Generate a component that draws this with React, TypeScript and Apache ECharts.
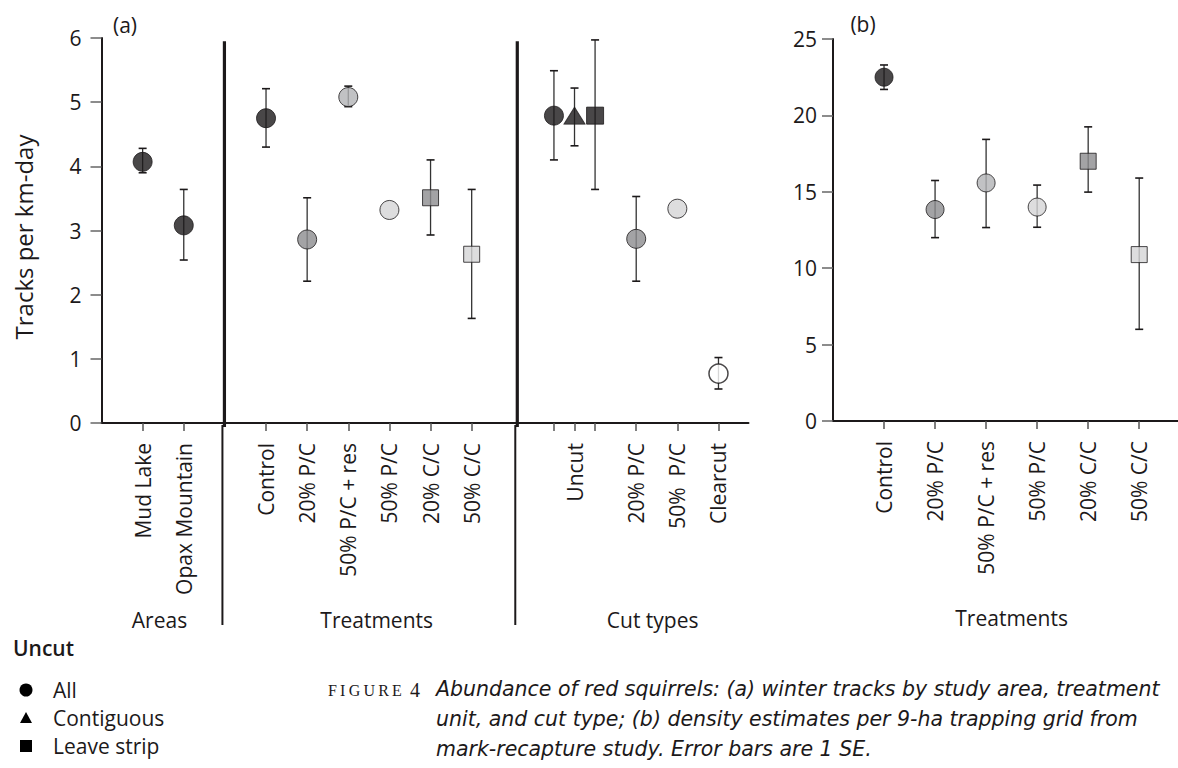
import React, { useEffect, useRef } from 'react';
import * as echarts from 'echarts';

const FONT = "'Open Sans', 'Noto Sans', sans-serif";
const CAPTION_FONT = "'DejaVu Sans', 'Open Sans', sans-serif";
const INK = '#1c191a';
const BAR = '#333333';

// ---------- Panel (a): tracks per km-day ----------
const aCategories = ['Mud Lake', 'Opax Mountain', 'Control', '20% P/C', '50% P/C + res', '50% P/C', '20% C/C', '50% C/C', 'Uncut', '20% P/C', '50%  P/C', 'Clearcut'];
const aCategoryPos = [1, 2, 4, 5, 6, 7, 8, 9, 11.5, 13, 14, 15];
const aTickPos = [1, 2, 4, 5, 6, 7, 8, 9, 11, 11.5, 12, 13, 14, 15];
const aPointPos = [1, 2, 4, 5, 6, 7, 8, 9, 11, 11.5, 12, 13, 14, 15];
const aMeans = [4.07, 3.08, 4.75, 2.86, 5.08, 3.32, 3.51, 2.63, 4.79, 4.79, 4.79, 2.87, 3.34, 0.77];
const aLow = [3.9, 2.54, 4.3, 2.21, 4.93, null, 2.93, 1.63, 4.1, 4.32, 3.64, 2.21, null, 0.53];
const aHigh = [4.28, 3.64, 5.21, 3.51, 5.25, null, 4.1, 3.64, 5.49, 5.22, 5.97, 3.53, null, 1.02];
const aShapes = ['circle', 'circle', 'circle', 'circle', 'circle', 'circle', 'rect', 'rect', 'circle', 'triangle', 'rect', 'circle', 'circle', 'circle'];
const aShades = ['black', 'black', 'black', 'dark', 'medium', 'light', 'dark', 'light', 'black', 'black', 'black', 'dark', 'light', 'white'];
const aGroupNames = ['Areas', 'Treatments', 'Cut types'];
const aGroupPos = [1.41, 6.69, 13.4];
const aDividers = [2.94, 10.06];
const aDividerTop = 5.95;
const aYMax = 6;

// ---------- Panel (b): density per 9-ha grid ----------
const bCategories = ['Control', '20% P/C', '50% P/C + res', '50% P/C', '20% C/C', '50% C/C'];
const bPos = [1, 2, 3, 4, 5, 6];
const bMeans = [22.5, 13.84, 15.58, 14.0, 17.0, 10.89];
const bLow = [21.7, 12.0, 12.66, 12.68, 14.98, 6.0];
const bHigh = [23.3, 15.74, 18.43, 15.44, 19.25, 15.9];
const bShapes = ['circle', 'circle', 'circle', 'circle', 'rect', 'rect'];
const bShades = ['black', 'dark', 'medium', 'light', 'dark', 'light'];
const bGroupNames = ['Treatments'];
const bGroupPos = [3.5];
const bYMax = 25;

// ---------- Legend & caption text ----------
const legendTitle = 'Uncut';
const legendLabels = ['All', 'Contiguous', 'Leave strip'];
const captionLines = [
  'Abundance of red squirrels: (a) winter tracks by study area, treatment',
  'unit, and cut type; (b) density estimates per 9-ha trapping grid from',
  'mark-recapture study. Error bars are 1 SE.',
];

const SHADE: Record<string, string> = {
  black: INK,
  dark: '#8c8c8e',
  medium: '#b2b3b5',
  light: '#d4d5d6',
  white: '#ffffff',
};

function symbolSize(shape: string, idx: number, panel: 'a' | 'b') {
  if (shape === 'triangle') return [21, 17];
  if (shape === 'rect') return panel === 'a' && idx === 10 ? 17 : 16;
  return panel === 'a' ? 19 : 18;
}

function pointData(pos: number[], means: number[], shapes: string[], shades: string[], panel: 'a' | 'b') {
  return pos.map((x, i) => ({
    value: [x, means[i]],
    symbol: shapes[i],
    symbolSize: symbolSize(shapes[i], i, panel),
    itemStyle: {
      color: SHADE[shades[i]],
      borderColor: INK,
      borderWidth: shades[i] === 'white' ? 1.5 : 1,
    },
  }));
}

function errData(pos: number[], low: (number | null)[], high: (number | null)[]) {
  const out: number[][] = [];
  pos.forEach((x, i) => {
    const lo = low[i];
    const hi = high[i];
    if (lo != null && hi != null) out.push([x, lo, hi]);
  });
  return out;
}

const errRender = (params: any, api: any) => {
  const x = api.value(0);
  const top = api.coord([x, api.value(2)]);
  const bot = api.coord([x, api.value(1)]);
  const c = 4;
  const st = { stroke: BAR, lineWidth: 1.3 };
  return {
    type: 'group',
    children: [
      { type: 'line', shape: { x1: top[0], y1: top[1], x2: bot[0], y2: bot[1] }, style: st },
      { type: 'line', shape: { x1: top[0] - c, y1: top[1], x2: top[0] + c, y2: top[1] }, style: { stroke: INK, lineWidth: 1.6 } },
      { type: 'line', shape: { x1: bot[0] - c, y1: bot[1], x2: bot[0] + c, y2: bot[1] }, style: { stroke: INK, lineWidth: 1.6 } },
    ],
  };
};

const groupLabelRender = (names: string[]) => (params: any, api: any) => {
  const p = api.coord([api.value(0), 0]);
  return {
    type: 'text',
    x: p[0],
    y: p[1] + 197,
    style: {
      text: names[params.dataIndex],
      fontSize: 21,
      fontFamily: FONT,
      fill: INK,
      align: 'center',
      verticalAlign: 'middle',
    },
  };
};

const dividerRender = (params: any, api: any) => {
  const x = api.value(0);
  const top = api.coord([x, aDividerTop]);
  const base = api.coord([x, 0]);
  return {
    type: 'group',
    children: [
      { type: 'line', shape: { x1: top[0] + 2, y1: top[1], x2: base[0] + 2, y2: base[1] + 4 }, style: { stroke: INK, lineWidth: 3.2 } },
      { type: 'line', shape: { x1: base[0], y1: base[1] + 2, x2: base[0], y2: base[1] + 202 }, style: { stroke: INK, lineWidth: 2 } },
    ],
  };
};

function labelFor(cats: string[], pos: number[]) {
  return (v: number) => {
    const i = pos.findIndex((p) => Math.abs(p - v) < 1e-6);
    return i >= 0 ? cats[i] : '';
  };
}

const axisText = { fontSize: 21, fontFamily: FONT, color: INK };

export default function App() {
  const ref = useRef<HTMLDivElement>(null);

  useEffect(() => {
    if (!ref.current) return;
    const chart = echarts.init(ref.current, undefined, { renderer: 'svg' });

    const legendY = [690, 718, 746];

    const graphics: any[] = [
      { type: 'text', x: 23, y: 237, rotation: Math.PI / 2, style: { text: 'Tracks per km-day', fontSize: 24, fontFamily: FONT, fill: INK, align: 'center', verticalAlign: 'middle' } },
      { type: 'text', x: 125, y: 25, style: { text: '(a)', fontSize: 21, fontFamily: FONT, fill: INK, align: 'center', verticalAlign: 'middle' } },
      { type: 'text', x: 863, y: 24, style: { text: '(b)', fontSize: 21, fontFamily: FONT, fill: INK, align: 'center', verticalAlign: 'middle' } },
      { type: 'text', x: 13, y: 648, style: { text: legendTitle, fontSize: 21, fontWeight: 600, fontFamily: FONT, fill: INK, align: 'left', verticalAlign: 'middle' } },
      { type: 'circle', shape: { cx: 26, cy: legendY[0], r: 6.5 }, style: { fill: '#000' } },
      { type: 'polygon', shape: { points: [[26, legendY[1] - 6], [32, legendY[1] + 5], [20, legendY[1] + 5]] }, style: { fill: '#000' } },
      { type: 'rect', shape: { x: 20, y: legendY[2] - 6, width: 12, height: 12 }, style: { fill: '#000' } },
      {
        type: 'text', x: 328, y: 690,
        style: {
          text: '{s|F\u2009I\u2009G\u2009U\u2009R\u2009E\u2009}{n| 4}',
          fontFamily: "'Liberation Serif', 'DejaVu Serif', serif",
          fill: INK, align: 'left', verticalAlign: 'middle',
          rich: {
            s: { fontSize: 16, fontFamily: "'Liberation Serif', 'DejaVu Serif', serif", fill: INK },
            n: { fontSize: 20, fontFamily: "'Liberation Serif', 'DejaVu Serif', serif", fill: INK },
          },
        },
      },
    ];
    captionLines.forEach((line, i) => {
      graphics.push({ type: 'text', x: 436, y: 689 + i * 30, style: { text: line, fontSize: 20.5, fontStyle: 'italic', fontFamily: CAPTION_FONT, fill: INK, align: 'left', verticalAlign: 'middle' } });
    });
    legendLabels.forEach((t, i) => {
      graphics.push({ type: 'text', x: 53, y: legendY[i], style: { text: t, fontSize: 21, fontFamily: FONT, fill: INK, align: 'left', verticalAlign: 'middle' } });
    });

    chart.setOption({
      animation: false,
      backgroundColor: '#ffffff',
      textStyle: { fontFamily: FONT },
      grid: [
        { left: 101.5, top: 38, width: 647, height: 385 },
        { left: 833, top: 39, width: 345, height: 382 },
      ],
      xAxis: [
        {
          type: 'value', gridIndex: 0, min: 0, max: 15.73,
          axisLine: { show: true, lineStyle: { color: INK, width: 2 } },
          axisTick: { show: true, customValues: aTickPos, length: 8, lineStyle: { color: '#555', width: 1.5 } },
          axisLabel: { show: true, customValues: aCategoryPos, rotate: 90, margin: 20, ...axisText, formatter: labelFor(aCategories, aCategoryPos) },
          splitLine: { show: false },
        },
        {
          type: 'value', gridIndex: 1, min: 0, max: 6.76,
          axisLine: { show: true, lineStyle: { color: INK, width: 2 } },
          axisTick: { show: true, customValues: bPos, length: 8, lineStyle: { color: '#555', width: 1.5 } },
          axisLabel: { show: true, customValues: bPos, rotate: 90, margin: 20, ...axisText, formatter: labelFor(bCategories, bPos) },
          splitLine: { show: false },
        },
      ],
      yAxis: [
        {
          type: 'value', gridIndex: 0, min: 0, max: aYMax, interval: 1,
          axisLine: { show: true, lineStyle: { color: INK, width: 2 } },
          axisTick: { show: true, length: 11, lineStyle: { color: '#666', width: 1.5 } },
          axisLabel: { margin: 20, ...axisText },
          splitLine: { show: false },
        },
        {
          type: 'value', gridIndex: 1, min: 0, max: bYMax, interval: 5,
          axisLine: { show: true, lineStyle: { color: INK, width: 2 } },
          axisTick: { show: true, length: 11, lineStyle: { color: '#666', width: 1.5 } },
          axisLabel: { margin: 16, ...axisText },
          splitLine: { show: false },
        },
      ],
      series: [
        { type: 'custom', xAxisIndex: 0, yAxisIndex: 0, data: aDividers.map((d) => [d]), renderItem: dividerRender, clip: false, silent: true, z: 3 },
        { type: 'custom', xAxisIndex: 0, yAxisIndex: 0, data: errData(aPointPos, aLow, aHigh), renderItem: errRender, encode: { x: 0, y: [1, 2] }, clip: false, silent: true, z: 4 },
        { type: 'scatter', xAxisIndex: 0, yAxisIndex: 0, data: pointData(aPointPos, aMeans, aShapes, aShades, 'a'), z: 5 },
        { type: 'custom', xAxisIndex: 0, yAxisIndex: 0, data: aGroupPos.map((p) => [p]), renderItem: groupLabelRender(aGroupNames), clip: false, silent: true },
        { type: 'custom', xAxisIndex: 1, yAxisIndex: 1, data: errData(bPos, bLow, bHigh), renderItem: errRender, encode: { x: 0, y: [1, 2] }, clip: false, silent: true, z: 4 },
        { type: 'scatter', xAxisIndex: 1, yAxisIndex: 1, data: pointData(bPos, bMeans, bShapes, bShades, 'b'), z: 5 },
        { type: 'custom', xAxisIndex: 1, yAxisIndex: 1, data: bGroupPos.map((p) => [p]), renderItem: groupLabelRender(bGroupNames), clip: false, silent: true },
      ],
      graphic: graphics,
    });

    return () => chart.dispose();
  }, []);

  return (
    <div
      ref={ref}
      style={{ position: 'fixed', left: 0, top: 0, width: 1178, height: 768, background: '#fff' }}
    />
  );
}
